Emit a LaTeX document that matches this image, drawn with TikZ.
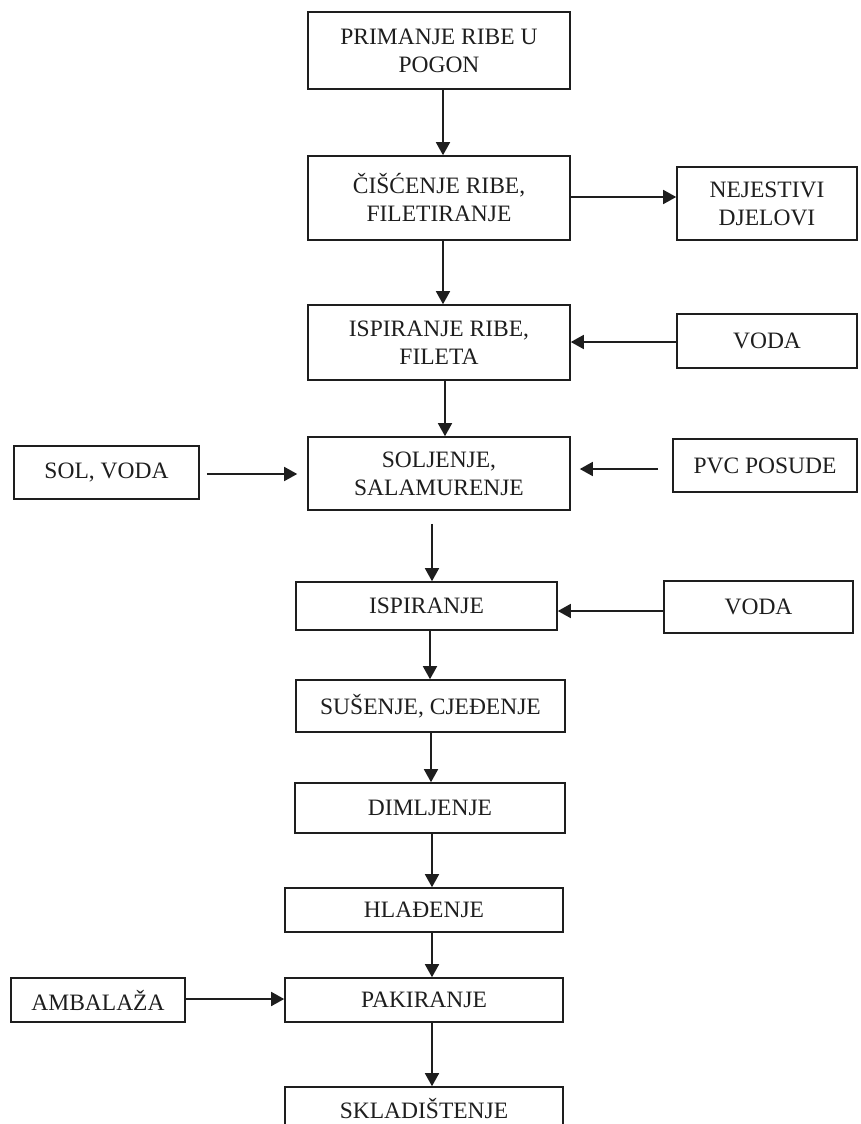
\documentclass[tikz,border=0pt]{standalone}
\usepackage{fontspec}
\setmainfont{Liberation Serif}
\usetikzlibrary{arrows.meta}
\definecolor{ink}{HTML}{1E1E1E}
\tikzset{
  box/.style={draw=ink, line width=1.6pt, rectangle, inner sep=0pt, align=center,
    text=ink, font=\fontsize{23.5}{28}\selectfont},
  arr/.style={draw=ink, line width=1.6pt, -{Triangle[length=13pt,width=14pt]}}
}
\begin{document}
\begin{tikzpicture}[x=1pt,y=-1pt]
\useasboundingbox (0,0) rectangle (860,1124);

% main process chain
\node[box, minimum width=262, minimum height=77] (p1) at (439,50.5) {PRIMANJE RIBE U\\POGON};
\node[box, minimum width=262, minimum height=84] (p2) at (439,198) {ČIŠĆENJE RIBE,\\FILETIRANJE};
\node[box, minimum width=262, minimum height=75] (p3) at (439,342.5) {ISPIRANJE RIBE,\\FILETA};
\node[box, minimum width=262, minimum height=73] (p4) at (439,473.5) {SOLJENJE,\\SALAMURENJE};
\node[box, minimum width=261, minimum height=48] (p5) at (426.5,606) {ISPIRANJE};
\node[box, minimum width=269, minimum height=52] (p6) at (430.5,706) {SUŠENJE, CJEĐENJE};
\node[box, minimum width=270, minimum height=50] (p7) at (430,808) {DIMLJENJE};
\node[box, minimum width=278, minimum height=44] (p8) at (424,910) {HLAĐENJE};
\node[box, minimum width=278, minimum height=44] (p9) at (424,1000) {PAKIRANJE};
\node[box, minimum width=278, minimum height=44] (p10) at (424,1109) {SKLADIŠTENJE};

% side inputs and outputs
\node[box, minimum width=180, minimum height=73] (nej) at (767,203.5) {NEJESTIVI\\DJELOVI};
\node[box, minimum width=180, minimum height=54] (voda1) at (767,341) {VODA};
\node[box, minimum width=185, minimum height=53] (sol) at (106.5,472.5) {SOL, VODA};
\node[box, minimum width=184, minimum height=53] (pvc) at (765,465.5) {PVC POSUDE};
\node[box, minimum width=189, minimum height=52] (voda2) at (758.5,607) {VODA};
\node[box, minimum width=174, minimum height=44] (amb) at (98,1000) {AMBALAŽA};

% vertical flow
\draw[arr] ([xshift=4]p1.south) -- ([xshift=4]p2.north);
\draw[arr] ([xshift=4]p2.south) -- ([xshift=4]p3.north);
\draw[arr] ([xshift=6]p3.south) -- ([xshift=6]p4.north);
\draw[arr, shorten <=13pt] ([xshift=-7]p4.south) -- ([xshift=5.5]p5.north);
\draw[arr] ([xshift=3.5]p5.south) -- ([xshift=-0.5]p6.north);
\draw[arr] ([xshift=0.5]p6.south) -- ([xshift=1]p7.north);
\draw[arr] ([xshift=2]p7.south) -- ([xshift=8]p8.north);
\draw[arr] ([xshift=8]p8.south) -- ([xshift=8]p9.north);
\draw[arr] ([xshift=8]p9.south) -- ([xshift=8]p10.north);

% horizontal flow
\draw[arr] ([yshift=1]p2.east) -- ([yshift=1]p2.east -| nej.west);
\draw[arr] ([yshift=-1]voda1.west) -- ([yshift=-1]voda1.west -| p3.east);
\draw[arr, shorten <=7pt, shorten >=10pt] ([yshift=-1.5]sol.east) -- ([yshift=-1.5]sol.east -| p4.west);
\draw[arr, shorten <=14pt, shorten >=9pt] ([yshift=-3.5]pvc.west) -- ([yshift=-3.5]pvc.west -| p4.east);
\draw[arr] ([yshift=-4]voda2.west) -- ([yshift=-4]voda2.west -| p5.east);
\draw[arr] ([yshift=1]amb.east) -- ([yshift=1]amb.east -| p9.west);
\end{tikzpicture}
\end{document}
